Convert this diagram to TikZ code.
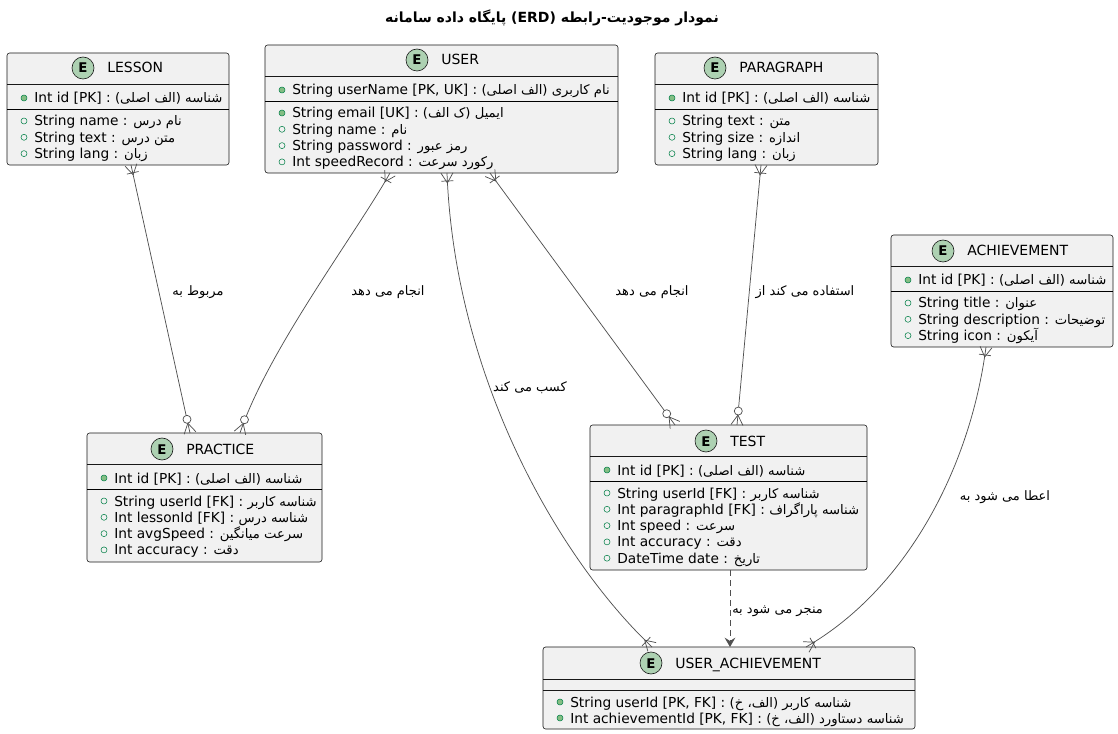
\documentclass[tikz,border=0pt]{standalone}
\usepackage{fontspec}
\setmainfont{DejaVu Sans}
\newfontfamily\ar[Script=Arabic,Scale=0.96]{DejaVu Sans}
\newfontfamily\art[Script=Arabic]{DejaVu Sans}
\TeXXeTstate=1
\usetikzlibrary{calc,fit,arrows.meta}
\definecolor{boxfill}{HTML}{F1F1F1}
\definecolor{boxline}{HTML}{181818}
\definecolor{spotfill}{HTML}{ADD1B2}
\definecolor{icongreen}{HTML}{038048}
\definecolor{iconfill}{HTML}{84BE84}
\definecolor{edgecol}{HTML}{505050}
\tikzset{
 ent/.style={draw=boxline, fill=boxfill, line width=0.45pt, rounded corners=2pt, inner sep=0pt},
 hsep/.style={draw=boxline, line width=0.4pt},
 fsep/.style={draw=black, line width=0.6pt},
 spot/.style={draw=boxline, fill=spotfill, line width=0.45pt, circle, inner sep=0pt, minimum size=16.5pt},
 spotE/.style={anchor=base, inner sep=0pt, font=\fontsize{10}{12}\selectfont\bfseries},
 etitle/.style={anchor=base west, inner sep=0pt, font=\fontsize{10.5}{12}\selectfont},
 rowtxt/.style={anchor=base west, inner sep=0pt, font=\fontsize{10.3}{12}\selectfont},
 pkdot/.style={draw=icongreen, fill=iconfill, line width=0.4pt},
 atdot/.style={draw=icongreen, line width=0.4pt},
 edge/.style={draw=edgecol, line width=0.55pt},
 lbl/.style={inner sep=0pt, font=\fontsize{9.75}{11}\selectfont},
 ttl/.style={inner sep=0pt, font=\fontsize{10.5}{12}\selectfont\bfseries},
}
% row: name, text x, row centre y, icon style, text
\newcommand\erow[5]{\draw[#4] (#2-10,#3) circle[radius=2.25pt];
  \node[rowtxt] (#1) at (#2,#3+5) {#5};}
% header: name, circle x, circle y, title
\newcommand\ehead[4]{\node[spot] (#1-spot) at (#2,#3) {};
  \node[spotE] (#1-E) at (#2,#3+5) {E};
  \node[etitle] (#1-title) at (#2+24,#3+5) {#4};}
% crow's foot, bar, ring: end point, direction point
\newcommand\cmany[2]{\draw[edge] ($(#1)!4.5pt!90:(#2)$) -- ($(#1)!7.5pt!(#2)$) -- ($(#1)!4.5pt!-90:(#2)$);}
\newcommand\cbar[2]{\draw[edge] ($(#1)!6pt!(#2)!4.5pt!90:(#2)$) -- ($(#1)!6pt!(#2)!4.5pt!-90:(#2)$);}
\newcommand\cring[2]{\draw[edge,fill=white] ($(#1)!10.5pt!(#2)$) circle[radius=3pt];}
\begin{document}
\begin{tikzpicture}[x=0.75pt,y=-0.75pt]
\fill[white] (0,0) rectangle (1118,734);
\useasboundingbox (0,0) rectangle (1118,734);

\node[ttl] (title) at (552,18) {\art\beginR نمودار موجودیت-رابطه (ERD) پایگاه داده سامانه\endR};

% ---------- LESSON ----------
\node[ent, fit={(7,53)(229,165)}] (lesson) {};
\draw[hsep] (7,84) -- (229,84);
\draw[fsep] (7,109) -- (229,109);
\ehead{lesson}{83}{68}{LESSON}
\erow{lesson-r0}{34}{98}{pkdot}{Int id [PK] : {\ar\beginR شناسه (الف اصلی)\endR}}
\erow{lesson-r1}{34}{121}{atdot}{String name : {\ar\beginR نام درس\endR}}
\erow{lesson-r2}{34}{137.3}{atdot}{String text : {\ar\beginR متن درس\endR}}
\erow{lesson-r3}{34}{153.6}{atdot}{String lang : {\ar\beginR زبان\endR}}

% ---------- USER ----------
\node[ent, fit={(265,45)(618,173)}] (user) {};
\draw[hsep] (265,76) -- (618,76);
\draw[fsep] (265,101) -- (618,101);
\ehead{user}{417}{60}{USER}
\erow{user-r0}{292}{90}{pkdot}{String userName [PK, UK] : {\ar\beginR نام کاربری (الف اصلی)\endR}}
\erow{user-r1}{292}{113}{pkdot}{String email [UK] : {\ar\beginR ایمیل (ک الف)\endR}}
\erow{user-r2}{292}{129.3}{atdot}{String name : {\ar\beginR نام\endR}}
\erow{user-r3}{292}{145.6}{atdot}{String password : {\ar\beginR رمز عبور\endR}}
\erow{user-r4}{292}{161.9}{atdot}{Int speedRecord : {\ar\beginR رکورد سرعت\endR}}

% ---------- PARAGRAPH ----------
\node[ent, fit={(655,53)(878,165)}] (paragraph) {};
\draw[hsep] (655,84) -- (878,84);
\draw[fsep] (655,109) -- (878,109);
\ehead{paragraph}{715}{68}{PARAGRAPH}
\erow{paragraph-r0}{682}{98}{pkdot}{Int id [PK] : {\ar\beginR شناسه (الف اصلی)\endR}}
\erow{paragraph-r1}{682}{121}{atdot}{String text : {\ar\beginR متن\endR}}
\erow{paragraph-r2}{682}{137.3}{atdot}{String size : {\ar\beginR اندازه\endR}}
\erow{paragraph-r3}{682}{153.6}{atdot}{String lang : {\ar\beginR زبان\endR}}

% ---------- ACHIEVEMENT ----------
\node[ent, fit={(891,235)(1113,347)}] (achievement) {};
\draw[hsep] (891,266) -- (1113,266);
\draw[fsep] (891,291) -- (1113,291);
\ehead{achievement}{943}{251}{ACHIEVEMENT}
\erow{achievement-r0}{918}{280}{pkdot}{Int id [PK] : {\ar\beginR شناسه (الف اصلی)\endR}}
\erow{achievement-r1}{918}{303}{atdot}{String title : {\ar\beginR عنوان\endR}}
\erow{achievement-r2}{918}{319.3}{atdot}{String description : {\ar\beginR توضیحات\endR}}
\erow{achievement-r3}{918}{335.6}{atdot}{String icon : {\ar\beginR آیکون\endR}}

% ---------- PRACTICE ----------
\node[ent, fit={(87,433)(322,562)}] (practice) {};
\draw[hsep] (87,464) -- (322,464);
\draw[fsep] (87,489) -- (322,489);
\ehead{practice}{162}{449}{PRACTICE}
\erow{practice-r0}{114}{478}{pkdot}{Int id [PK] : {\ar\beginR شناسه (الف اصلی)\endR}}
\erow{practice-r1}{114}{501}{atdot}{String userId [FK] : {\ar\beginR شناسه کاربر\endR}}
\erow{practice-r2}{114}{517.3}{atdot}{Int lessonId [FK] : {\ar\beginR شناسه درس\endR}}
\erow{practice-r3}{114}{533.6}{atdot}{Int avgSpeed : {\ar\beginR سرعت میانگین\endR}}
\erow{practice-r4}{114}{549.9}{atdot}{Int accuracy : {\ar\beginR دقت\endR}}

% ---------- TEST ----------
\node[ent, fit={(590,425)(867,570)}] (test) {};
\draw[hsep] (590,456) -- (867,456);
\draw[fsep] (590,481) -- (867,481);
\ehead{test}{706}{441}{TEST}
\erow{test-r0}{617}{470}{pkdot}{Int id [PK] : {\ar\beginR شناسه (الف اصلی)\endR}}
\erow{test-r1}{617}{493}{atdot}{String userId [FK] : {\ar\beginR شناسه کاربر\endR}}
\erow{test-r2}{617}{509.3}{atdot}{Int paragraphId [FK] : {\ar\beginR شناسه پاراگراف\endR}}
\erow{test-r3}{617}{525.6}{atdot}{Int speed : {\ar\beginR سرعت\endR}}
\erow{test-r4}{617}{541.9}{atdot}{Int accuracy : {\ar\beginR دقت\endR}}
\erow{test-r5}{617}{558.2}{atdot}{DateTime date : {\ar\beginR تاریخ\endR}}

% ---------- USER_ACHIEVEMENT ----------
\node[ent, fit={(543,647)(915,729)}] (userach) {};
\draw[hsep] (543,679) -- (915,679);
\draw[hsep] (543,690) -- (915,690);
\ehead{userach}{651}{663}{USER\_ACHIEVEMENT}
\erow{userach-r0}{570}{702}{pkdot}{String userId [PK, FK] : {\ar\beginR شناسه کاربر (الف، خ)\endR}}
\erow{userach-r1}{570}{718}{pkdot}{Int achievementId [PK, FK] : {\ar\beginR شناسه دستاورد (الف، خ)\endR}}

% ---------- connectors ----------
% LESSON -- PRACTICE
\coordinate (e1s) at (131,165);
\coordinate (e1t) at (190,433);
\draw[edge] (e1s) -- (e1t);
\cmany{e1s}{e1t}\cbar{e1s}{e1t}
\cmany{e1t}{e1s}\cring{e1t}{e1s}
\node[lbl] (l1) at (198,292) {\art\beginR مربوط به\endR};

% USER -- PRACTICE
\coordinate (e2s) at (390,173);
\coordinate (e2a) at (355,235);
\coordinate (e2b) at (268,350);
\coordinate (e2t) at (240,433);
\draw[edge] (e2s) .. controls (e2a) and (e2b) .. (e2t);
\cmany{e2s}{e2a}\cbar{e2s}{e2a}
\cmany{e2t}{e2b}\cring{e2t}{e2b}
\node[lbl] (l2) at (388,292) {\art\beginR انجام می دهد\endR};

% USER -- USER_ACHIEVEMENT
\coordinate (e3s) at (447,173);
\coordinate (e3a) at (455,380);
\coordinate (e3b) at (560,560);
\coordinate (e3t) at (652,647);
\draw[edge] (e3s) .. controls (e3a) and (e3b) .. (e3t);
\cmany{e3s}{e3a}\cbar{e3s}{e3a}
\cmany{e3t}{e3b}\cbar{e3t}{e3b}
\node[lbl] (l3) at (530,388) {\art\beginR کسب می کند\endR};

% USER -- TEST
\coordinate (e4s) at (490,173);
\coordinate (e4t) at (675,425);
\draw[edge] (e4s) -- (e4t);
\cmany{e4s}{e4t}\cbar{e4s}{e4t}
\cmany{e4t}{e4s}\cring{e4t}{e4s}
\node[lbl] (l4) at (652,292) {\art\beginR انجام می دهد\endR};

% PARAGRAPH -- TEST
\coordinate (e5s) at (761,165);
\coordinate (e5t) at (737,425);
\draw[edge] (e5s) -- (e5t);
\cmany{e5s}{e5t}\cbar{e5s}{e5t}
\cmany{e5t}{e5s}\cring{e5t}{e5s}
\node[lbl] (l5) at (805,292) {\art\beginR استفاده می کند از\endR};

% ACHIEVEMENT -- USER_ACHIEVEMENT
\coordinate (e6s) at (986,347);
\coordinate (e6a) at (970,470);
\coordinate (e6b) at (905,590);
\coordinate (e6t) at (806,647);
\draw[edge] (e6s) .. controls (e6a) and (e6b) .. (e6t);
\cmany{e6s}{e6a}\cbar{e6s}{e6a}
\cmany{e6t}{e6b}\cbar{e6t}{e6b}
\node[lbl] (l6) at (1005,497) {\art\beginR اعطا می شود به\endR};

% TEST ..> USER_ACHIEVEMENT
\coordinate (e7s) at (730,570);
\coordinate (e7t) at (730,647);
\draw[edge, dash pattern=on 4.5pt off 3pt, -{Stealth[length=7pt,width=8pt,inset=2.5pt]}] (e7s) -- (e7t);
\node[lbl, anchor=west] (l7) at (732,611) {\art\beginR منجر می شود به\endR};
\end{tikzpicture}
\end{document}
